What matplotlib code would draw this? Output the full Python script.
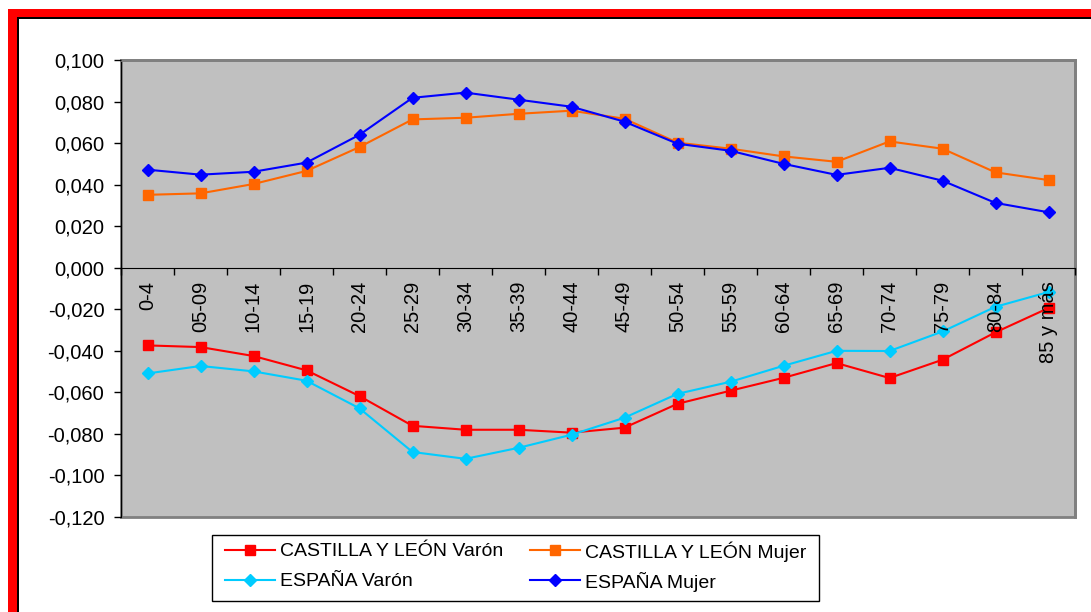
import matplotlib.pyplot as plt
from matplotlib.patches import Rectangle
from matplotlib.lines import Line2D

plt.rcParams['font.family'] = ['Liberation Sans', 'DejaVu Sans']

grupos = ["0-4", "05-09", "10-14", "15-19", "20-24", "25-29", "30-34", "35-39",
          "40-44", "45-49", "50-54", "55-59", "60-64", "65-69", "70-74", "75-79",
          "80-84", "85 y más"]

cyl_varon = [-0.0374, -0.0382, -0.0425, -0.0494, -0.0618, -0.0761, -0.0780, -0.0780,
             -0.0794, -0.0770, -0.0655, -0.0592, -0.0530, -0.0459, -0.0531, -0.0443,
             -0.0311, -0.0194]
cyl_mujer = [0.0351, 0.0358, 0.0403, 0.0466, 0.0581, 0.0714, 0.0722, 0.0741,
             0.0756, 0.0717, 0.0602, 0.0573, 0.0536, 0.0510, 0.0608, 0.0573,
             0.0459, 0.0422]
esp_varon = [-0.0509, -0.0473, -0.0499, -0.0544, -0.0677, -0.0887, -0.0920, -0.0867,
             -0.0804, -0.0722, -0.0607, -0.0549, -0.0472, -0.0400, -0.0401, -0.0307,
             -0.0188, -0.0117]
esp_mujer = [0.0472, 0.0448, 0.0462, 0.0506, 0.0640, 0.0818, 0.0843, 0.0809,
             0.0775, 0.0703, 0.0597, 0.0563, 0.0500, 0.0447, 0.0481, 0.0419,
             0.0312, 0.0267]

yticks = [0.10, 0.08, 0.06, 0.04, 0.02, 0.0, -0.02, -0.04, -0.06, -0.08, -0.10, -0.12]

W, H = 1091, 612
fig = plt.figure(figsize=(W / 100, H / 100), dpi=100)


def fx(x):
    return x / W


def fy(y):
    return 1 - y / H


# marco rojo (arriba e izquierda) con linea negra interior
def px_rect(x, y, w, h, color, fill=True, lw=0):
    fig.add_artist(Rectangle((fx(x), fy(y + h)), w / W, h / H, transform=fig.transFigure,
                             facecolor=color if fill else 'white',
                             edgecolor=color, lw=lw))

px_rect(8, 9, W - 8, 8, 'red')
px_rect(8, 9, 9, H - 9, 'red')
px_rect(17, 17, W - 17, 2, 'black')
px_rect(17, 17, 2, H - 17, 'black')

ax = fig.add_axes([fx(121), fy(517), (1075 - 121) / W, (517 - 60) / H])
ax.set_facecolor('#C0C0C0')
ax.patch.set_edgecolor('#808080')
ax.patch.set_linewidth(2)

x = list(range(len(grupos)))
series = [
    (cyl_varon, '#FF0000', 's', 7, "CASTILLA Y LEÓN Varón"),
    (cyl_mujer, '#FF6600', 's', 7, "CASTILLA Y LEÓN Mujer"),
    (esp_varon, '#00CCFF', 'D', 6.5, "ESPAÑA Varón"),
    (esp_mujer, '#0000FF', 'D', 6.5, "ESPAÑA Mujer"),
]
for vals, col, mk, ms, lab in series:
    ax.plot(x, vals, color=col, marker=mk, ms=ms, lw=1.5, label=lab)

ax.set_xlim(-0.5, len(grupos) - 0.5)
ax.set_ylim(-0.12, 0.10)
ax.set_yticks(yticks)
ax.set_yticklabels([f"{v:.3f}".replace('.', ',') if abs(v) > 1e-9 else "0,000"
                    for v in yticks])
ax.tick_params(axis='y', direction='out', length=5, width=1, pad=7,
               labelsize=14.5, color='black')

ax.spines['bottom'].set_position(('data', 0))
ax.spines['bottom'].set_color('black')
ax.spines['left'].set_color('black')
ax.spines['top'].set_color('#808080')
ax.spines['right'].set_color('#808080')
ax.spines['top'].set_linewidth(2)
ax.spines['right'].set_linewidth(2)

ax.set_xticks(x)
ax.set_xticklabels(grupos, rotation=90, va='top', ha='center')
ax.set_xticks([i - 0.5 for i in range(len(grupos) + 1)], minor=True)
ax.tick_params(axis='x', which='major', length=0, pad=9.5, labelsize=14.5)
ax.tick_params(axis='x', which='minor', direction='out', length=5, width=1)
ax.set_axisbelow(False)

# leyenda dibujada a mano para alinear las filas como en el original
px_rect(212, 535, 607, 66, 'black', fill=False, lw=1)
handles = ax.get_lines()
slots = [(225, 550), (530, 550), (225, 580), (530, 580)]
for line, (lx, ly) in zip(handles, slots):
    fig.add_artist(Line2D([fx(lx), fx(lx + 50)], [fy(ly), fy(ly)],
                          transform=fig.transFigure, color=line.get_color(),
                          lw=1.5, marker=None))
    fig.add_artist(Line2D([fx(lx + 25)], [fy(ly)], transform=fig.transFigure,
                          color=line.get_color(), marker=line.get_marker(),
                          ms=line.get_markersize(), lw=0))
    fig.text(fx(lx + 55), fy(ly), line.get_label(), fontsize=14,
             ha='left', va='center_baseline')

fig.savefig("out.png", dpi=100)
